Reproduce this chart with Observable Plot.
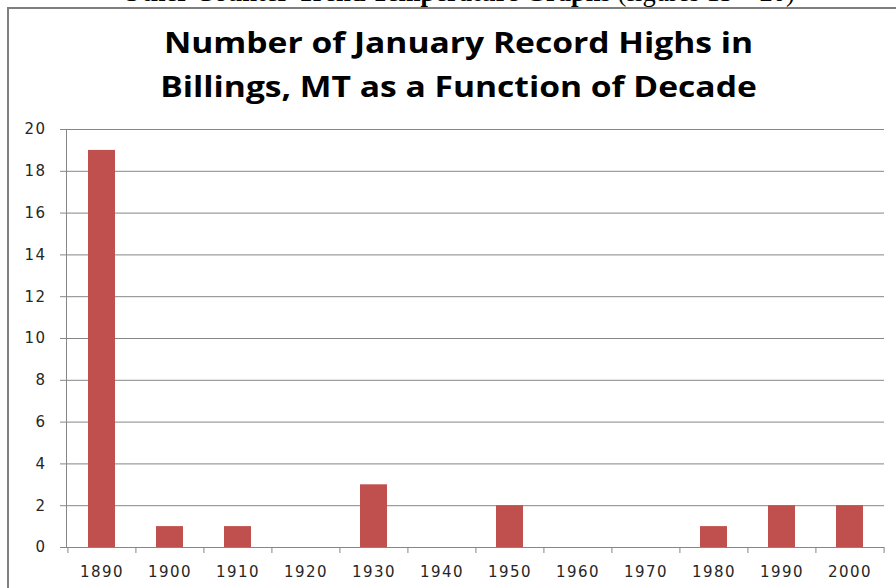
<!DOCTYPE html>
<html>
<head>
<meta charset="utf-8">
<script src="https://cdn.jsdelivr.net/npm/d3@7"></script>
<script src="https://cdn.jsdelivr.net/npm/@observablehq/plot@0.6"></script>
<style>
  html, body { margin: 0; padding: 0; background: #fff; }
  body { width: 896px; height: 588px; position: relative; overflow: hidden; }
  #doc-head { position: absolute; left: 0; top: -21px; width: 916px; text-align: center;
    font-family: "Liberation Serif", serif; font-size: 26.5px; line-height: 26px; color: #000; white-space: nowrap; }
  #doc-head b { font-weight: 700; }
  #frame { position: absolute; left: 7px; top: 7px; width: 900px; height: 600px; z-index: 5;
    border-left: 2px solid #7f7f7f; border-top: 2px solid #7f7f7f; box-sizing: border-box; }
  #title { position: absolute; left: 0; top: 20px; width: 917px; text-align: center;
    font-family: "Open Sans", sans-serif; font-weight: 700; font-size: 28px; line-height: 44px; color: #000;
    transform: scaleX(1.2); transform-origin: 458.5px 0; white-space: nowrap; }
  #chart { position: absolute; left: 0; top: 110px; }
  #chart svg text { letter-spacing: 1.5px; }
</style>
</head>
<body>
<div id="doc-head"><b>Other Counter-Trend Temperature Graphs</b> (figures 13 – 20)</div>
<div id="frame"></div>
<div id="title">Number of January Record Highs in<br>Billings, MT as a Function of Decade</div>
<div id="chart"></div>
<script>
const decades = ["1890","1900","1910","1920","1930","1940","1950","1960","1970","1980","1990","2000"];
const counts  = [19, 1, 1, 0, 3, 0, 2, 0, 0, 1, 2, 2];
const yTicks  = [0, 2, 4, 6, 8, 10, 12, 14, 16, 18, 20];

const data = decades.map((d, i) => ({decade: d, count: counts[i]}));

const W = 896, H = 478, ML = 66, MR = 12;
const step = (W - ML - MR) / decades.length;
const gray = "#868686";

const chart = Plot.plot({
  width: W, height: H,
  marginLeft: ML, marginRight: MR, marginTop: 19, marginBottom: 41,
  x: {domain: decades, paddingInner: 0.61, paddingOuter: 0.305, axis: null, label: null},
  y: {domain: [0, 20], axis: null, label: null},
  style: {fontFamily: "DejaVu Sans", fontSize: "15px", color: "#262626", background: "transparent"},
  marks: [
    Plot.gridY(yTicks, {stroke: gray, strokeOpacity: 1}),
    Plot.frame({anchor: "left", stroke: gray}),
    Plot.barY(data, {x: "decade", y: "count", fill: "#C0504D"}),
    Plot.ruleY([0], {stroke: gray}),
    Plot.axisY({ticks: yTicks, tickSize: 6, tickPadding: 14, stroke: gray, fill: "#262626", label: null}),
    Plot.axisX({ticks: decades, tickSize: 6, tickFormat: () => "", dx: -step / 2, stroke: gray, label: null}),
    Plot.axisX({ticks: [decades[decades.length - 1]], tickSize: 6, tickFormat: () => "", dx: step / 2, stroke: gray, label: null}),
    Plot.axisX({ticks: decades, tickSize: 0, tickPadding: 19, fill: "#262626", label: null})
  ]
});
document.getElementById("chart").appendChild(chart);
</script>
</body>
</html>
